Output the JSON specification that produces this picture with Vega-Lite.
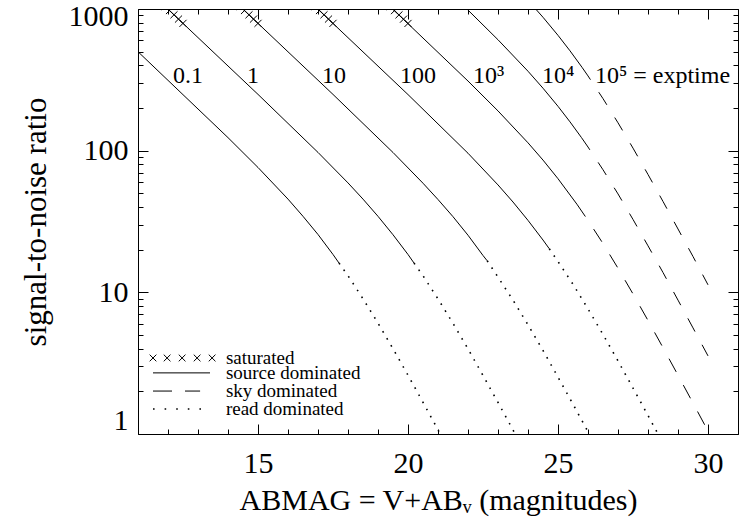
{
  "$schema": "https://vega.github.io/schema/vega-lite/v6.json",
  "width": 600,
  "height": 425,
  "autosize": {"type": "none"},
  "padding": {"left": 138, "top": 9, "right": 6, "bottom": 85},
  "background": "white",
  "config": {
    "view": {"stroke": null},
    "style": {"serifText": {"font": "Liberation Serif", "fill": "black"}},
    "axis": {"domainColor": "black", "tickColor": "black", "labelColor": "black", "titleColor": "black", "grid": false, "labelFont": "Liberation Serif", "titleFont": "Liberation Serif", "titleFontWeight": "normal", "labelOverlap": false, "labelFlush": false, "domainWidth": 1, "tickWidth": 1}
  },
  "datasets": {
    "curves": [
      {"exptime": "0.1", "regime": "source", "mag": 11, "snr": 499.5},
      {"exptime": "0.1", "regime": "source", "mag": 14, "snr": 123.6},
      {"exptime": "0.1", "regime": "source", "mag": 15, "snr": 76.1},
      {"exptime": "0.1", "regime": "source", "mag": 16, "snr": 45.5},
      {"exptime": "0.1", "regime": "source", "mag": 16.5, "snr": 34.4},
      {"exptime": "0.1", "regime": "source", "mag": 17, "snr": 25.6},
      {"exptime": "0.1", "regime": "source", "mag": 17.5, "snr": 18.5},
      {"exptime": "0.1", "regime": "source", "mag": 17.7, "snr": 16.1},
      {"exptime": "0.1", "regime": "read", "mag": 17.7, "snr": 16.1},
      {"exptime": "0.1", "regime": "read", "mag": 18, "snr": 13.1},
      {"exptime": "0.1", "regime": "read", "mag": 18.5, "snr": 9.01},
      {"exptime": "0.1", "regime": "read", "mag": 19, "snr": 6.06},
      {"exptime": "0.1", "regime": "read", "mag": 19.5, "snr": 4.0},
      {"exptime": "0.1", "regime": "read", "mag": 20, "snr": 2.6},
      {"exptime": "0.1", "regime": "read", "mag": 20.5, "snr": 1.674},
      {"exptime": "0.1", "regime": "read", "mag": 21, "snr": 1.07},
      {"exptime": "0.1", "regime": "read", "mag": 21.5, "snr": 0.681},
      {"exptime": "1", "regime": "source", "mag": 11.5, "snr": 1256},
      {"exptime": "1", "regime": "source", "mag": 15, "snr": 249.6},
      {"exptime": "1", "regime": "source", "mag": 17, "snr": 97.2},
      {"exptime": "1", "regime": "source", "mag": 18, "snr": 59.2},
      {"exptime": "1", "regime": "source", "mag": 18.5, "snr": 45.5},
      {"exptime": "1", "regime": "source", "mag": 19, "snr": 34.4},
      {"exptime": "1", "regime": "source", "mag": 19.5, "snr": 25.5},
      {"exptime": "1", "regime": "source", "mag": 20, "snr": 18.5},
      {"exptime": "1", "regime": "source", "mag": 20.2, "snr": 16.1},
      {"exptime": "1", "regime": "read", "mag": 20.2, "snr": 16.1},
      {"exptime": "1", "regime": "read", "mag": 20.5, "snr": 13.1},
      {"exptime": "1", "regime": "read", "mag": 21, "snr": 8.99},
      {"exptime": "1", "regime": "read", "mag": 21.5, "snr": 6.04},
      {"exptime": "1", "regime": "read", "mag": 22, "snr": 3.99},
      {"exptime": "1", "regime": "read", "mag": 22.5, "snr": 2.59},
      {"exptime": "1", "regime": "read", "mag": 23, "snr": 1.67},
      {"exptime": "1", "regime": "read", "mag": 23.5, "snr": 1.068},
      {"exptime": "1", "regime": "read", "mag": 24, "snr": 0.679},
      {"exptime": "10", "regime": "source", "mag": 14, "snr": 1256},
      {"exptime": "10", "regime": "source", "mag": 17.5, "snr": 249.5},
      {"exptime": "10", "regime": "source", "mag": 19.5, "snr": 97.1},
      {"exptime": "10", "regime": "source", "mag": 20.5, "snr": 58.9},
      {"exptime": "10", "regime": "source", "mag": 21, "snr": 45.2},
      {"exptime": "10", "regime": "source", "mag": 21.5, "snr": 34.2},
      {"exptime": "10", "regime": "source", "mag": 22, "snr": 25.3},
      {"exptime": "10", "regime": "source", "mag": 22.5, "snr": 18.2},
      {"exptime": "10", "regime": "source", "mag": 22.64, "snr": 16.7},
      {"exptime": "10", "regime": "read", "mag": 22.64, "snr": 16.7},
      {"exptime": "10", "regime": "read", "mag": 23, "snr": 12.8},
      {"exptime": "10", "regime": "read", "mag": 23.5, "snr": 8.81},
      {"exptime": "10", "regime": "read", "mag": 24, "snr": 5.9},
      {"exptime": "10", "regime": "read", "mag": 24.5, "snr": 3.89},
      {"exptime": "10", "regime": "read", "mag": 25, "snr": 2.52},
      {"exptime": "10", "regime": "read", "mag": 25.5, "snr": 1.623},
      {"exptime": "10", "regime": "read", "mag": 26, "snr": 1.037},
      {"exptime": "10", "regime": "read", "mag": 26.5, "snr": 0.66},
      {"exptime": "100", "regime": "source", "mag": 16.5, "snr": 1256},
      {"exptime": "100", "regime": "source", "mag": 20, "snr": 248.9},
      {"exptime": "100", "regime": "source", "mag": 22, "snr": 95.9},
      {"exptime": "100", "regime": "source", "mag": 23, "snr": 57.3},
      {"exptime": "100", "regime": "source", "mag": 23.5, "snr": 43.4},
      {"exptime": "100", "regime": "source", "mag": 24, "snr": 32.2},
      {"exptime": "100", "regime": "source", "mag": 24.5, "snr": 23.4},
      {"exptime": "100", "regime": "source", "mag": 24.71, "snr": 20.3},
      {"exptime": "100", "regime": "read", "mag": 24.71, "snr": 20.3},
      {"exptime": "100", "regime": "read", "mag": 25, "snr": 16.5},
      {"exptime": "100", "regime": "read", "mag": 25.5, "snr": 11.4},
      {"exptime": "100", "regime": "read", "mag": 26, "snr": 7.64},
      {"exptime": "100", "regime": "read", "mag": 26.5, "snr": 5.04},
      {"exptime": "100", "regime": "read", "mag": 27, "snr": 3.28},
      {"exptime": "100", "regime": "read", "mag": 27.5, "snr": 2.11},
      {"exptime": "100", "regime": "read", "mag": 28, "snr": 1.352},
      {"exptime": "100", "regime": "read", "mag": 28.5, "snr": 0.86},
      {"exptime": "100", "regime": "read", "mag": 29, "snr": 0.546},
      {"exptime": "1000", "regime": "source", "mag": 19, "snr": 1255},
      {"exptime": "1000", "regime": "source", "mag": 22, "snr": 310.1},
      {"exptime": "1000", "regime": "source", "mag": 23, "snr": 190.8},
      {"exptime": "1000", "regime": "source", "mag": 24, "snr": 113.6},
      {"exptime": "1000", "regime": "source", "mag": 24.5, "snr": 85.8},
      {"exptime": "1000", "regime": "source", "mag": 25, "snr": 63.4},
      {"exptime": "1000", "regime": "source", "mag": 25.63, "snr": 41.9},
      {"exptime": "1000", "regime": "sky", "mag": 25.63, "snr": 41.9},
      {"exptime": "1000", "regime": "sky", "mag": 26, "snr": 32.2},
      {"exptime": "1000", "regime": "sky", "mag": 26.5, "snr": 22.1},
      {"exptime": "1000", "regime": "sky", "mag": 27, "snr": 14.8},
      {"exptime": "1000", "regime": "sky", "mag": 27.5, "snr": 9.75},
      {"exptime": "1000", "regime": "sky", "mag": 28, "snr": 6.33},
      {"exptime": "1000", "regime": "sky", "mag": 28.5, "snr": 4.07},
      {"exptime": "1000", "regime": "sky", "mag": 29, "snr": 2.6},
      {"exptime": "1000", "regime": "sky", "mag": 29.5, "snr": 1.654},
      {"exptime": "1000", "regime": "sky", "mag": 30, "snr": 1.049},
      {"exptime": "10000", "regime": "source", "mag": 21.5, "snr": 1244},
      {"exptime": "10000", "regime": "source", "mag": 22, "snr": 982.6},
      {"exptime": "10000", "regime": "source", "mag": 23, "snr": 606.6},
      {"exptime": "10000", "regime": "source", "mag": 24, "snr": 363.6},
      {"exptime": "10000", "regime": "source", "mag": 24.5, "snr": 276.0},
      {"exptime": "10000", "regime": "source", "mag": 25, "snr": 205.6},
      {"exptime": "10000", "regime": "source", "mag": 25.4, "snr": 159.7},
      {"exptime": "10000", "regime": "source", "mag": 25.78, "snr": 123.9},
      {"exptime": "10000", "regime": "sky", "mag": 25.78, "snr": 123.9},
      {"exptime": "10000", "regime": "sky", "mag": 26, "snr": 106.1},
      {"exptime": "10000", "regime": "sky", "mag": 26.5, "snr": 73.3},
      {"exptime": "10000", "regime": "sky", "mag": 27, "snr": 49.5},
      {"exptime": "10000", "regime": "sky", "mag": 27.5, "snr": 32.7},
      {"exptime": "10000", "regime": "sky", "mag": 28, "snr": 21.3},
      {"exptime": "10000", "regime": "sky", "mag": 28.5, "snr": 13.8},
      {"exptime": "10000", "regime": "sky", "mag": 29, "snr": 8.81},
      {"exptime": "10000", "regime": "sky", "mag": 29.5, "snr": 5.61},
      {"exptime": "10000", "regime": "sky", "mag": 30, "snr": 3.56},
      {"exptime": "100000", "regime": "source", "mag": 23.5, "snr": 1494},
      {"exptime": "100000", "regime": "source", "mag": 24, "snr": 1151},
      {"exptime": "100000", "regime": "source", "mag": 24.5, "snr": 874.1},
      {"exptime": "100000", "regime": "source", "mag": 25, "snr": 651.6},
      {"exptime": "100000", "regime": "source", "mag": 25.4, "snr": 506.8},
      {"exptime": "100000", "regime": "source", "mag": 25.8, "snr": 387.7},
      {"exptime": "100000", "regime": "sky", "mag": 25.8, "snr": 387.7},
      {"exptime": "100000", "regime": "sky", "mag": 26, "snr": 336.9},
      {"exptime": "100000", "regime": "sky", "mag": 26.5, "snr": 233.0},
      {"exptime": "100000", "regime": "sky", "mag": 27, "snr": 157.3},
      {"exptime": "100000", "regime": "sky", "mag": 27.5, "snr": 104.2},
      {"exptime": "100000", "regime": "sky", "mag": 28, "snr": 67.9},
      {"exptime": "100000", "regime": "sky", "mag": 28.5, "snr": 43.8},
      {"exptime": "100000", "regime": "sky", "mag": 29, "snr": 28.0},
      {"exptime": "100000", "regime": "sky", "mag": 29.5, "snr": 17.9},
      {"exptime": "100000", "regime": "sky", "mag": 30, "snr": 11.3}
    ],
    "saturated": [
      {"exptime": "1", "mag": 11.9, "snr": 1044},
      {"exptime": "1", "mag": 12.05, "snr": 975},
      {"exptime": "1", "mag": 12.2, "snr": 910},
      {"exptime": "1", "mag": 12.35, "snr": 849},
      {"exptime": "1", "mag": 12.5, "snr": 792},
      {"exptime": "10", "mag": 14.4, "snr": 1044},
      {"exptime": "10", "mag": 14.55, "snr": 975},
      {"exptime": "10", "mag": 14.7, "snr": 910},
      {"exptime": "10", "mag": 14.85, "snr": 849},
      {"exptime": "10", "mag": 15.0, "snr": 792},
      {"exptime": "100", "mag": 16.9, "snr": 1044},
      {"exptime": "100", "mag": 17.05, "snr": 975},
      {"exptime": "100", "mag": 17.2, "snr": 910},
      {"exptime": "100", "mag": 17.35, "snr": 849},
      {"exptime": "100", "mag": 17.5, "snr": 792},
      {"exptime": "1000", "mag": 19.4, "snr": 1043},
      {"exptime": "1000", "mag": 19.55, "snr": 974},
      {"exptime": "1000", "mag": 19.7, "snr": 909},
      {"exptime": "1000", "mag": 19.85, "snr": 848},
      {"exptime": "1000", "mag": 20.0, "snr": 791}
    ],
    "curveLabels": [
      {"label": "0.1", "mag": 12.17, "snr": 300},
      {"label": "1", "mag": 14.63, "snr": 300},
      {"label": "10", "mag": 17.13, "snr": 300},
      {"label": "100", "mag": 19.73, "snr": 300},
      {"label": "10³", "mag": 22.17, "snr": 300},
      {"label": "10⁴", "mag": 24.47, "snr": 300},
      {"label": "10⁵ = exptime", "mag": 26.23, "snr": 300}
    ],
    "legendLines": [
      {"item": "source", "mag": 11.5, "snr": 2.7},
      {"item": "source", "mag": 13.4, "snr": 2.7},
      {"item": "sky", "mag": 11.5, "snr": 2.01},
      {"item": "sky", "mag": 13.07, "snr": 2.01},
      {"item": "read", "mag": 11.5, "snr": 1.5},
      {"item": "read", "mag": 13.4, "snr": 1.5}
    ],
    "legendMarks": [
      {"mag": 11.5, "snr": 3.44},
      {"mag": 11.97, "snr": 3.44},
      {"mag": 12.47, "snr": 3.44},
      {"mag": 12.97, "snr": 3.44},
      {"mag": 13.47, "snr": 3.44}
    ],
    "legendText": [
      {"label": "saturated", "mag": 13.93, "snr": 3.44},
      {"label": "source dominated", "mag": 13.93, "snr": 2.7},
      {"label": "sky dominated", "mag": 13.93, "snr": 2.01},
      {"label": "read dominated", "mag": 13.93, "snr": 1.5}
    ]
  },
  "layer": [
    {
      "data": {"name": "curves"},
      "transform": [{"filter": "datum.regime == 'source'"}],
      "mark": {"type": "line", "color": "black", "strokeWidth": 1, "clip": true},
      "encoding": {
        "x": {"field": "mag", "type": "quantitative", "scale": {"domain": [11, 31], "nice": false, "zero": false},
          "axis": {"orient": "bottom", "values": [11,12,13,14,15,16,17,18,19,20,21,22,23,24,25,26,27,28,29,30,31],
            "tickSize": {"expr": "datum.value % 5 == 0 ? -10 : -5"},
            "labelExpr": "datum.value % 5 == 0 ? datum.label : ''",
            "labelFontSize": 30, "labelPadding": 24,
            "title": "ABMAG = V+ABᵥ (magnitudes)", "titleFontSize": 30, "titlePadding": 2}},
        "y": {"field": "snr", "type": "quantitative", "scale": {"type": "log", "domain": [1, 1000], "nice": false},
          "axis": {"orient": "left", "values": [1,2,3,4,5,6,7,8,9,10,20,30,40,50,60,70,80,90,100,200,300,400,500,600,700,800,900,1000],
            "tickSize": {"expr": "(datum.value == 1 || datum.value == 10 || datum.value == 100 || datum.value == 1000) ? -10 : -5"},
            "labelExpr": "(datum.value == 1 || datum.value == 10 || datum.value == 100 || datum.value == 1000) ? format(datum.value, 'd') : ''",
            "labelFontSize": 30, "labelPadding": 20, "labelBaseline": "middle",
            "labelOffset": {"expr": "datum.value == 1000 ? 7 : datum.value == 1 ? -14 : 0"},
            "title": "signal-to-noise ratio", "titleFontSize": 31, "titlePadding": 16}},
        "detail": {"field": "exptime"}
      }
    },
    {
      "data": {"name": "curves"},
      "transform": [{"filter": "datum.regime == 'sky'"}],
      "mark": {"type": "line", "color": "black", "strokeWidth": 1, "strokeDash": [15, 15], "clip": true},
      "encoding": {
        "x": {"field": "mag", "type": "quantitative", "scale": {"domain": [11, 31], "nice": false, "zero": false},
          "axis": {"orient": "top", "values": [11,12,13,14,15,16,17,18,19,20,21,22,23,24,25,26,27,28,29,30,31],
            "tickSize": {"expr": "datum.value % 5 == 0 ? -10 : -5"}, "labels": false, "title": null}},
        "y": {"field": "snr", "type": "quantitative", "scale": {"type": "log", "domain": [1, 1000], "nice": false},
          "axis": {"orient": "right", "values": [1,2,3,4,5,6,7,8,9,10,20,30,40,50,60,70,80,90,100,200,300,400,500,600,700,800,900,1000],
            "tickSize": {"expr": "(datum.value == 1 || datum.value == 10 || datum.value == 100 || datum.value == 1000) ? -10 : -5"},
            "labels": false, "title": null}},
        "detail": {"field": "exptime"}
      }
    },
    {
      "data": {"name": "curves"},
      "transform": [{"filter": "datum.regime == 'read'"}],
      "mark": {"type": "line", "color": "black", "strokeWidth": 1.6, "strokeDash": [1.6, 6.5], "clip": true},
      "encoding": {
        "x": {"field": "mag", "type": "quantitative", "scale": {"domain": [11, 31], "nice": false, "zero": false}, "axis": null},
        "y": {"field": "snr", "type": "quantitative", "scale": {"type": "log", "domain": [1, 1000], "nice": false}, "axis": null},
        "detail": {"field": "exptime"}
      }
    },
    {
      "data": {"name": "saturated"},
      "mark": {"type": "point", "shape": "M-1,-1L1,1M1,-1L-1,1", "filled": false, "stroke": "black", "strokeWidth": 1, "size": 50, "opacity": 1, "clip": true},
      "encoding": {
        "x": {"field": "mag", "type": "quantitative", "scale": {"domain": [11, 31], "nice": false, "zero": false}, "axis": null},
        "y": {"field": "snr", "type": "quantitative", "scale": {"type": "log", "domain": [1, 1000], "nice": false}, "axis": null}
      }
    },
    {
      "data": {"name": "curveLabels"},
      "mark": {"type": "text", "style": "serifText", "align": "left", "baseline": "alphabetic", "fontSize": 24, "font": "Liberation Serif"},
      "encoding": {
        "x": {"field": "mag", "type": "quantitative", "scale": {"domain": [11, 31], "nice": false, "zero": false}, "axis": null},
        "y": {"field": "snr", "type": "quantitative", "scale": {"type": "log", "domain": [1, 1000], "nice": false}, "axis": null},
        "text": {"field": "label"}
      }
    },
    {
      "data": {"name": "legendLines"},
      "transform": [{"filter": "datum.item == 'source'"}],
      "mark": {"type": "line", "color": "black", "strokeWidth": 1},
      "encoding": {
        "x": {"field": "mag", "type": "quantitative", "scale": {"domain": [11, 31], "nice": false, "zero": false}, "axis": null},
        "y": {"field": "snr", "type": "quantitative", "scale": {"type": "log", "domain": [1, 1000], "nice": false}, "axis": null}
      }
    },
    {
      "data": {"name": "legendLines"},
      "transform": [{"filter": "datum.item == 'sky'"}],
      "mark": {"type": "line", "color": "black", "strokeWidth": 1, "strokeDash": [19, 13]},
      "encoding": {
        "x": {"field": "mag", "type": "quantitative", "scale": {"domain": [11, 31], "nice": false, "zero": false}, "axis": null},
        "y": {"field": "snr", "type": "quantitative", "scale": {"type": "log", "domain": [1, 1000], "nice": false}, "axis": null}
      }
    },
    {
      "data": {"name": "legendLines"},
      "transform": [{"filter": "datum.item == 'read'"}],
      "mark": {"type": "line", "color": "black", "strokeWidth": 1.6, "strokeDash": [1.6, 10]},
      "encoding": {
        "x": {"field": "mag", "type": "quantitative", "scale": {"domain": [11, 31], "nice": false, "zero": false}, "axis": null},
        "y": {"field": "snr", "type": "quantitative", "scale": {"type": "log", "domain": [1, 1000], "nice": false}, "axis": null}
      }
    },
    {
      "data": {"name": "legendMarks"},
      "mark": {"type": "point", "shape": "M-1,-1L1,1M1,-1L-1,1", "filled": false, "stroke": "black", "strokeWidth": 1, "size": 45, "opacity": 1},
      "encoding": {
        "x": {"field": "mag", "type": "quantitative", "scale": {"domain": [11, 31], "nice": false, "zero": false}, "axis": null},
        "y": {"field": "snr", "type": "quantitative", "scale": {"type": "log", "domain": [1, 1000], "nice": false}, "axis": null}
      }
    },
    {
      "data": {"name": "legendText"},
      "mark": {"type": "text", "style": "serifText", "align": "left", "baseline": "middle", "fontSize": 19, "font": "Liberation Serif"},
      "encoding": {
        "x": {"field": "mag", "type": "quantitative", "scale": {"domain": [11, 31], "nice": false, "zero": false}, "axis": null},
        "y": {"field": "snr", "type": "quantitative", "scale": {"type": "log", "domain": [1, 1000], "nice": false}, "axis": null},
        "text": {"field": "label"}
      }
    }
  ]
}
